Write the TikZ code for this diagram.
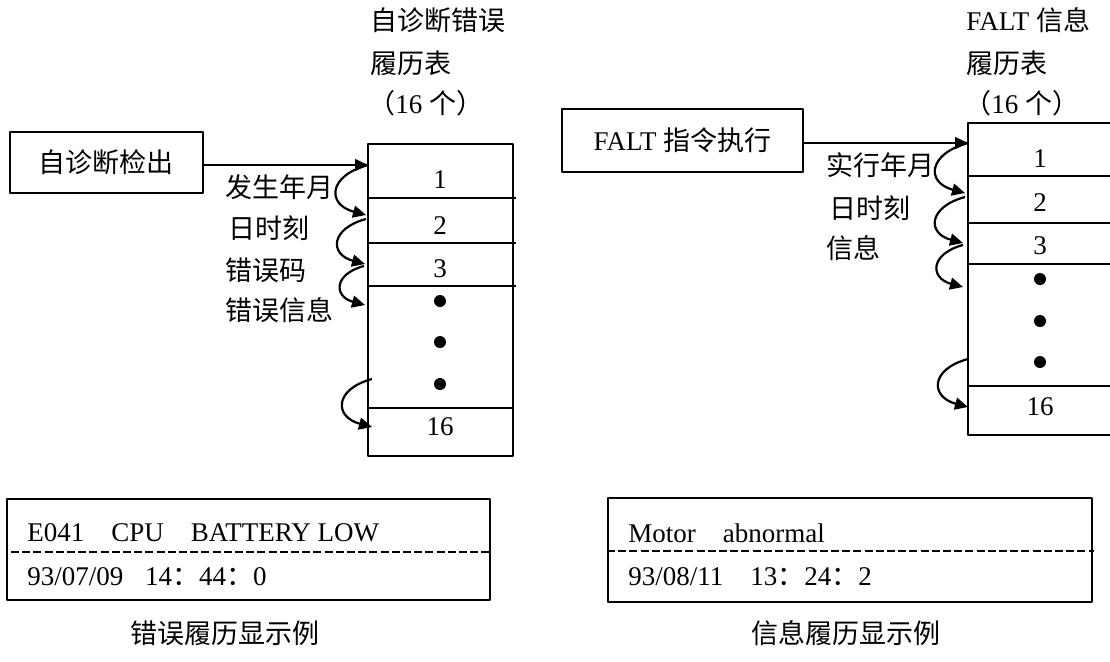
\documentclass[tikz,border=0pt]{standalone}
\usepackage{fontspec}
\setmainfont{Liberation Serif}
\newfontfamily\zhfont{Noto Sans CJK SC}
\usetikzlibrary{arrows.meta}
\tikzset{
  box/.style={draw, line width=0.8pt, inner sep=0pt},
  lbl/.style={anchor=west, inner sep=0pt},
  tabdot/.style={circle, fill, inner sep=0pt, minimum size=6pt},
  looparr/.style={line width=1.1pt, ->, out=195, in=165, looseness=2.1},
  sepline/.style={line width=0.9pt, dash pattern=on 4pt off 1.6pt},
}
\begin{document}
\begin{tikzpicture}[x=0.5pt, y=-0.5pt, font=\fontsize{13.5pt}{16pt}\selectfont, line join=round, >={Triangle[length=6.5pt,width=6pt]}]
	\useasboundingbox (0,0) rectangle (1110,661);
	% left: self-diagnosis error history
	\node[lbl] (ttlL1) at (370,20) {\zhfont 自诊断错误};
	\node[lbl] (ttlL2) at (370,63) {\zhfont 履历表};
	\node[lbl] (ttlL3) at (368,103) {{\zhfont （}16 {\zhfont 个）}};
	\node[box, minimum width=96.5pt, minimum height=30.5pt] (diag) at (106.5,162.5) {\zhfont 自诊断检出};
	\draw[line width=0.8pt] (368,144) rectangle (513,456);
	\foreach \y/\e in {198/516, 243/516, 286/516, 408/513}
		\draw[line width=0.8pt] (368,\y) -- (\e,\y);
	\node (nL1) at (440,180) {1};
	\node (nL2) at (440,226) {2};
	\node (nL3) at (440,269) {3};
	\node (nL16) at (440,427) {16};
	\foreach \y [count=\i] in {301,342,384}
		\node[tabdot] (dL\i) at (440,\y) {};
	\coordinate (inL) at (368,165);
	\draw[line width=0.8pt, ->] (diag.east |- inL) -- (inL);
	\foreach \xa/\ya/\xb/\yb [count=\i] in {368/165/366/215, 366/219/365/264, 364/266/365/305, 372/379/372/427} {
		\coordinate (la\i) at (\xa,\ya);
		\coordinate (lb\i) at (\xb,\yb);
		\draw[looparr] (la\i) to (lb\i);
	}
	\node[lbl] (tL1) at (225,187) {\zhfont 发生年月};
	\node[lbl] (tL2) at (228,228) {\zhfont 日时刻};
	\node[lbl] (tL3) at (225,270) {\zhfont 错误码};
	\node[lbl] (tL4) at (225,310) {\zhfont 错误信息};
	% right: FALT message history
	\node[lbl] (ttlR1) at (966,20) {FALT {\zhfont 信息}};
	\node[lbl] (ttlR2) at (966,63) {\zhfont 履历表};
	\node[lbl] (ttlR3) at (964,103) {{\zhfont （}16 {\zhfont 个）}};
	\node[box, minimum width=120.5pt, minimum height=31.5pt] (falt) at (682.5,140.5) {FALT {\zhfont 指令执行}};
	\draw[line width=0.8pt] (1110,123) -- (968,123) -- (968,435) -- (1110,435);
	\foreach \y in {176,223,264,386}
		\draw[line width=0.8pt] (968,\y) -- (1110,\y);
	\node (nR1) at (1040,159) {1};
	\node (nR2) at (1040,203) {2};
	\node (nR3) at (1040,246) {3};
	\node (nR16) at (1040,407) {16};
	\foreach \y [count=\i] in {279,321,362}
		\node[tabdot] (dR\i) at (1040,\y) {};
	\coordinate (inR) at (968,143);
	\draw[line width=0.8pt, ->] (falt.east |- inR) -- (inR);
	\foreach \xa/\ya/\xb/\yb [count=\i] in {968/143/965/193, 965/197/963/243, 963/245/963/287, 968/359/968/407} {
		\coordinate (ra\i) at (\xa,\ya);
		\coordinate (rb\i) at (\xb,\yb);
		\draw[looparr] (ra\i) to (rb\i);
	}
	\node[lbl] (tR1) at (826,165) {\zhfont 实行年月};
	\node[lbl] (tR2) at (829,208) {\zhfont 日时刻};
	\node[lbl] (tR3) at (826,248) {\zhfont 信息};
	% display examples
	\node[box, minimum width=241.5pt, minimum height=50.5pt] (errbox) at (248.5,549.5) {};
	\draw[sepline] (11,552) -- (490,552);
	\node[lbl] (err1) at (27,533) {E041\hspace{1em}CPU\hspace{1em}BATTERY LOW};
	\node[lbl] (err2) at (27,577) {93/07/09\hspace{0.8em}14{\zhfont ：}44{\zhfont ：}0};
	\node (capL) at (225,633) {\zhfont 错误履历显示例};
	\node[box, minimum width=242pt, minimum height=52pt] (infbox) at (850,550) {};
	\draw[sepline] (607,551) -- (1094,551);
	\node[lbl] (inf1) at (628,533) {Motor\hspace{1em}abnormal};
	\node[lbl] (inf2) at (628,577) {93/08/11\hspace{1em}13{\zhfont ：}24{\zhfont ：}2};
	\node (capR) at (846,633) {\zhfont 信息履历显示例};
\end{tikzpicture}
\end{document}
